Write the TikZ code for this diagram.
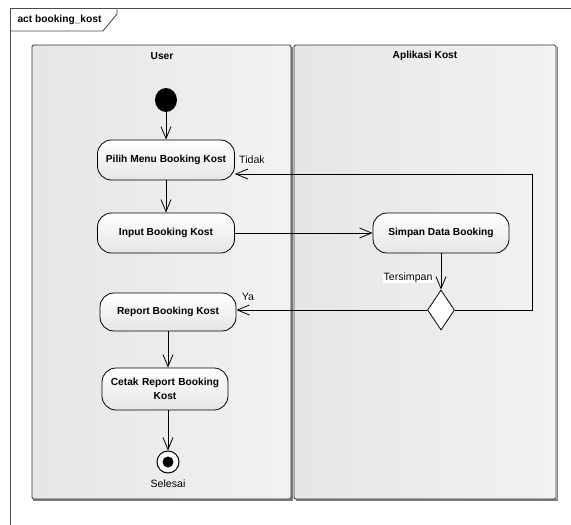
\documentclass[tikz,border=0pt]{standalone}
\usepackage{fontspec}
\setmainfont{Liberation Sans}
\usetikzlibrary{shapes.geometric,arrows.meta,calc}
\begin{document}
\begin{tikzpicture}[x=1pt,y=-1pt,
  framestyle/.style={draw=black!70,line width=0.9pt},
  lanebox/.style={draw=black!80,line width=0.8pt,rounded corners=1.5pt,
    left color=black!10,middle color=white,right color=black!5},
  laneshadow/.style={draw=black!50,line width=1.6pt},
  lanetitle/.style={font=\fontsize{10.2}{12}\selectfont\bfseries},
  action/.style={draw=black,line width=0.8pt,rounded corners=14pt,
    top color=white,bottom color=black!10,align=center,inner sep=2pt,
    font=\fontsize{10.2}{14}\selectfont\bfseries},
  decision/.style={draw=black,line width=0.8pt,fill=white,diamond,
    minimum width=27pt,minimum height=40pt,inner sep=0pt},
  guard/.style={fill=white,inner sep=0.5pt,font=\fontsize{10.6}{12}\selectfont},
  flow/.style={draw=black,line width=0.8pt,
    -{Straight Barb[length=12pt,width=10pt,line width=0.8pt]}}
]
\useasboundingbox (0,0) rectangle (571,525);

% diagram frame with its name tab
\draw[framestyle] (571,8) -- (10,8) -- (10,525);
\draw[framestyle] (10,31) -- (103,31) -- (117,14) -- (117,8);
\node[anchor=west,font=\fontsize{10.2}{12}\selectfont\bfseries] (frametitle) at (14,20) {act booking\_kost};

% swimlanes
\draw[laneshadow] (292,47) -- (292,500) -- (33,500);
\draw[lanebox] (32,45) rectangle (291,499);
\draw[laneshadow] (557.5,47) -- (557.5,500) -- (296,500);
\draw[lanebox] (294,45) rectangle (556,499);
\node[lanetitle] (laneuser) at (162,56) {User};
\node[lanetitle] (laneapp) at (425,56) {Aplikasi Kost};

% nodes
\node[ellipse,fill=black,minimum width=22pt,minimum height=24pt,inner sep=0pt] (start) at (166,100) {};
\node[action,minimum width=137pt,minimum height=40pt] (pilih) at (166,160) {Pilih Menu Booking Kost};
\node[action,minimum width=137pt,minimum height=40pt] (input) at (166,233) {Input Booking Kost};
\node[action,minimum width=136pt,minimum height=40pt] (simpan) at (441,233) {Simpan Data Booking};
\node[decision] (dec) at (441,310) {};
\node[action,minimum width=136pt,minimum height=38pt] (report) at (168,312) {Report Booking Kost};
\node[action,minimum width=126pt,minimum height=42pt,text width=118pt] (cetak) at (165,389) {Cetak Report Booking\\Kost};
\node[circle,draw=black,line width=1pt,fill=white,minimum size=22pt,inner sep=0pt] (fin) at (168,462) {};
\node[circle,fill=black,minimum size=11pt,inner sep=0pt] (findot) at (fin.center) {};
\node[font=\fontsize{10.6}{12}\selectfont] (finlabel) at (168,484) {Selesai};

% control flows
\draw[flow] (start.south) -- (pilih.north);
\draw[flow] (pilih.south) -- (input.north);
\draw[flow] (input.east) -- (simpan.west);
\draw[flow] (simpan.south) -- (dec.north);
\coordinate (loopcorner) at (532,174);
\draw[flow] (dec.east) -| (loopcorner) -- (loopcorner -| pilih.east);
\draw[flow] (dec.west) -- (dec.west -| report.east);
\draw[flow] (report.south) -- (report.south |- cetak.north);
\draw[flow] (cetak.south -| fin) -- (fin.north);

% guards
\node[guard] (gtidak) at (252,160) {Tidak};
\node[guard] (gya) at (248,297) {Ya};
\node[guard] (gsimpan) at (408,278) {Tersimpan};
\end{tikzpicture}
\end{document}
